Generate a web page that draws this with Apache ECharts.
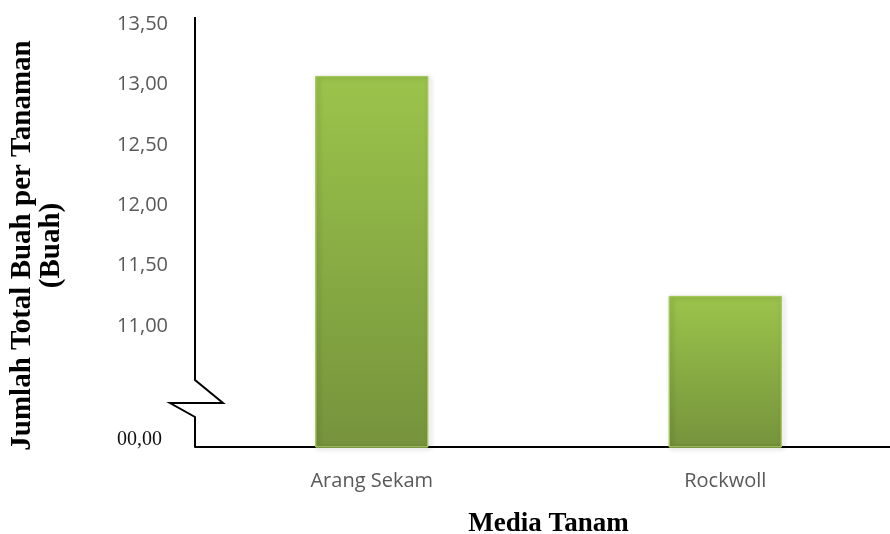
<!DOCTYPE html>
<html>
<head>
<meta charset="utf-8">
<script src="https://cdn.jsdelivr.net/npm/echarts@6/dist/echarts.min.js"></script>
<style>
  html, body { margin: 0; padding: 0; background: #fff; }
  #main { width: 890px; height: 534px; }
</style>
</head>
<body>
<div id="main"></div>
<script>
// data
var categories = ['Arang Sekam', 'Rockwoll'];
var values = [13.07, 11.25];
// broken axis: bottom of the axis stands for 0, shown as "00,00"
var yMin = 10, yMax = 13.5, yStep = 0.5;

var chart = echarts.init(document.getElementById('main'));

chart.setOption({
  animation: false,
  grid: { left: 195, right: -12, top: 24, bottom: 87, containLabel: false, outerBoundsMode: 'none' },
  xAxis: {
    type: 'category',
    data: categories,
    name: 'Media Tanam',
    nameLocation: 'middle',
    nameGap: 64,
    nameTextStyle: { fontFamily: 'Liberation Serif', fontWeight: 'bold', fontSize: 27, color: '#000' },
    axisLine: { lineStyle: { color: '#000', width: 2 } },
    axisTick: { show: false },
    axisLabel: { fontFamily: 'Open Sans', fontSize: 20, color: '#595959', margin: 24 }
  },
  yAxis: {
    type: 'value',
    min: yMin,
    max: yMax,
    interval: yStep,
    name: 'Jumlah Total Buah per Tanaman\n(Buah)',
    nameLocation: 'middle',
    nameGap: 129,
    nameRotate: 90,
    nameTextStyle: {
      fontFamily: 'Liberation Serif', fontWeight: 'bold', fontSize: 29, lineHeight: 29, color: '#000',
      padding: [0, 20, 0, 0]
    },
    axisLine: { show: false },
    axisTick: { show: false },
    splitLine: { show: false },
    axisLabel: {
      fontFamily: 'Open Sans', fontSize: 20, color: '#595959', margin: 27,
      formatter: function (v) {
        if (v === yMin) return '{z|00,00}';
        if (v < 11) return '';
        return v.toFixed(2).replace('.', ',');
      },
      rich: {
        z: { fontFamily: 'Liberation Serif', fontSize: 20, color: '#111', padding: [0, 6, 14, 0] }
      }
    }
  },
  series: [{
    type: 'bar',
    data: values,
    barWidth: 113,
    itemStyle: {
      color: new echarts.graphic.LinearGradient(0, 0, 0, 1, [
        { offset: 0, color: '#9bc44b' },
        { offset: 1, color: '#76933c' }
      ]),
      borderColor: '#a5c75f',
      borderWidth: 1,
      shadowColor: 'rgba(0,0,0,0.3)',
      shadowBlur: 5,
      shadowOffsetX: 2,
      shadowOffsetY: 1
    }
  }]
});

// left axis line with the zigzag break
var yTop = chart.convertToPixel({ yAxisIndex: 0 }, yMax);
var yBot = chart.convertToPixel({ yAxisIndex: 0 }, yMin);
var x0 = 195;
chart.setOption({
  graphic: [{
    type: 'polyline',
    z: 100,
    shape: {
      points: [
        [x0, yTop - 7],
        [x0, yBot - 67],
        [x0 + 28, yBot - 44],
        [x0 - 25, yBot - 44],
        [x0, yBot - 30],
        [x0, yBot]
      ]
    },
    style: { stroke: '#000', lineWidth: 2, fill: null }
  }]
});
</script>
</body>
</html>
